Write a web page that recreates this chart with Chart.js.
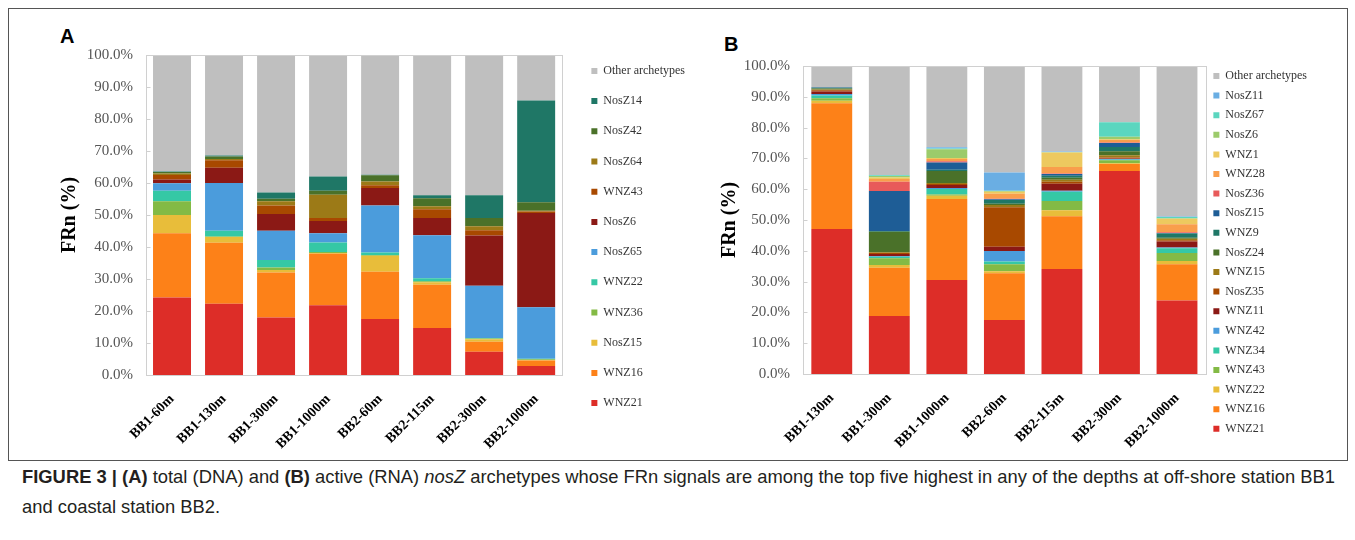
<!DOCTYPE html>
<html>
<head>
<meta charset="utf-8">
<script src="https://cdn.jsdelivr.net/npm/chart.js@4.4.1/dist/chart.umd.min.js"></script>
<style>
  body { margin: 0; background: #fff; width: 1355px; height: 540px; position: relative; overflow: hidden; }
  #frame { position: absolute; left: 8px; top: 8px; width: 1338px; height: 451px; border: 1px solid #555; }
  .tag { position: absolute; font-family: "Liberation Sans", Arial, sans-serif; font-weight: bold; font-size: 20px; line-height: 20px; color: #000; }
  #wrapA { position: absolute; left: 50px; top: 33px; }
  #wrapB { position: absolute; left: 710px; top: 44px; }
  #caption { position: absolute; left: 22px; top: 462px; white-space: nowrap; transform-origin: left top;
             font-family: "Liberation Sans", Arial, sans-serif; font-size: 19px; line-height: 30px; color: #231f20; }
</style>
</head>
<body>
<div id="frame"></div>
<div class="tag" style="left:60px; top:26px;">A</div>
<div class="tag" style="left:724px; top:34px;">B</div>
<div id="wrapA"><canvas id="chartA" width="635" height="422"></canvas></div>
<div id="wrapB"><canvas id="chartB" width="597" height="410"></canvas></div>
<div id="caption"><span id="capLine1"><b>FIGURE 3 | (A)</b> total (DNA) and <b>(B)</b> active (RNA) <i>nosZ</i> archetypes whose FRn signals are among the top five highest in any of the depths at off-shore station BB1</span><br>and coastal station BB2.</div>

<script>
// ---- panel A : total (DNA) ----
const catsA = ['BB1-60m', 'BB1-130m', 'BB1-300m', 'BB1-1000m', 'BB2-60m', 'BB2-115m', 'BB2-300m', 'BB2-1000m'];
const A_WNZ21  = [24.2, 22.3, 18.0, 21.8, 17.5, 14.7, 7.3, 2.8];
const A_WNZ16  = [20.1, 19.0, 14.0, 16.1, 14.8, 13.5, 3.1, 1.7];
const A_NosZ15 = [5.7, 1.8, 0.8, 0.2, 5.0, 0.8, 0.8, 0.2];
const A_WNZ36  = [4.3, 0.2, 0.8, 0.3, 0.2, 0.3, 0.2, 0.2];
const A_WNZ22  = [3.3, 1.8, 2.3, 3.0, 0.8, 0.9, 0.2, 0.2];
const A_NosZ65 = [2.3, 14.9, 9.2, 2.9, 14.7, 13.5, 16.3, 16.1];
const A_NosZ6  = [1.2, 4.8, 5.2, 3.8, 5.4, 5.4, 15.7, 29.4];
const A_WNZ43  = [1.4, 2.3, 2.7, 1.0, 0.9, 2.7, 1.6, 0.5];
const A_NosZ64 = [0.5, 0.4, 1.3, 7.2, 1.2, 0.9, 1.3, 0.2];
const A_NosZ42 = [0.4, 0.8, 0.8, 1.3, 1.9, 2.5, 2.6, 2.7];
const A_NosZ14 = [0.2, 0.3, 1.9, 4.4, 0.2, 1.0, 7.1, 31.8];
const A_Other  = [36.4, 31.4, 43.0, 38.0, 37.4, 43.8, 43.8, 14.2];

// ---- panel B : active (RNA) ----
const catsB = ['BB1-130m', 'BB1-300m', 'BB1-1000m', 'BB2-60m', 'BB2-115m', 'BB2-300m', 'BB2-1000m'];
const B_WNZ21  = [47.1, 18.8, 30.5, 17.5, 34.1, 65.9, 23.9];
const B_WNZ16  = [40.8, 15.7, 26.3, 15.2, 17.1, 2.3, 11.7];
const B_WNZ22  = [0.8, 0.9, 1.1, 0.7, 2.0, 0.2, 1.1];
const B_WNZ43  = [0.8, 2.2, 0.4, 2.2, 3.0, 1.0, 2.6];
const B_WNZ34  = [0.9, 0.5, 1.8, 0.9, 3.0, 0.2, 1.5];
const B_WNZ42  = [0.5, 0.2, 0.3, 3.4, 0.3, 0.2, 0.3];
const B_WNZ11  = [0.8, 0.7, 1.0, 1.4, 2.3, 0.2, 1.9];
const B_NosZ35 = [0.4, 0.3, 0.3, 12.8, 0.6, 0.3, 0.4];
const B_WNZ15  = [0.3, 0.2, 0.3, 0.8, 0.7, 0.7, 0.5];
const B_NosZ24 = [0.3, 6.7, 3.9, 0.4, 0.6, 1.3, 0.3];
const B_WNZ9   = [0.2, 0.2, 0.4, 1.2, 0.7, 1.4, 1.4];
const B_NosZ15 = [0.2, 13.0, 2.4, 0.2, 0.5, 1.3, 0.2];
const B_NosZ36 = [0.0, 3.0, 0.4, 0.2, 0.2, 0.2, 0.2];
const B_WNZ28  = [0.0, 0.9, 0.7, 1.6, 2.1, 0.8, 2.6];
const B_WNZ1   = [0.0, 0.5, 0.3, 0.7, 4.7, 0.2, 1.8];
const B_NosZ6  = [0.0, 0.5, 2.9, 0.2, 0.1, 0.8, 0.2];
const B_NosZ67 = [0.0, 0.2, 0.2, 0.1, 0.1, 4.7, 0.4];
const B_NosZ11 = [0.0, 0.1, 0.4, 5.9, 0.1, 0.0, 0.1];
const B_Other  = [6.9, 35.4, 26.4, 34.6, 27.8, 18.3, 48.9];

const yTicks = [0, 10, 20, 30, 40, 50, 60, 70, 80, 90, 100];

// bottom -> top stacking order
const seriesA = [
  ['WNZ21', A_WNZ21, '#dd2d28'],
  ['WNZ16', A_WNZ16, '#fd8118'],
  ['NosZ15', A_NosZ15, '#e8bd3a'],
  ['WNZ36', A_WNZ36, '#83ba45'],
  ['WNZ22', A_WNZ22, '#35c8a5'],
  ['NosZ65', A_NosZ65, '#4b9cdc'],
  ['NosZ6', A_NosZ6, '#8b1915'],
  ['WNZ43', A_WNZ43, '#a84900'],
  ['NosZ64', A_NosZ64, '#9c7a17'],
  ['NosZ42', A_NosZ42, '#4a7129'],
  ['NosZ14', A_NosZ14, '#1f7766'],
  ['Other archetypes', A_Other, '#bfbfbf']
];
const seriesB = [
  ['WNZ21', B_WNZ21, '#dd2d28'],
  ['WNZ16', B_WNZ16, '#fd8118'],
  ['WNZ22', B_WNZ22, '#e8bd3a'],
  ['WNZ43', B_WNZ43, '#83ba45'],
  ['WNZ34', B_WNZ34, '#35c8a5'],
  ['WNZ42', B_WNZ42, '#4b9cdc'],
  ['WNZ11', B_WNZ11, '#8b1915'],
  ['NosZ35', B_NosZ35, '#a84900'],
  ['WNZ15', B_WNZ15, '#9c7a17'],
  ['NosZ24', B_NosZ24, '#4a7129'],
  ['WNZ9', B_WNZ9, '#1f7766'],
  ['NosZ15', B_NosZ15, '#1e5d96'],
  ['NosZ36', B_NosZ36, '#e85a5a'],
  ['WNZ28', B_WNZ28, '#f99e4c'],
  ['WNZ1', B_WNZ1, '#edc95f'],
  ['NosZ6', B_NosZ6, '#9ccb6b'],
  ['NosZ67', B_NosZ67, '#5bd6bf'],
  ['NosZ11', B_NosZ11, '#6aaee3'],
  ['Other archetypes', B_Other, '#bfbfbf']
];

const serif = '"Liberation Serif", "Times New Roman", serif';

// grey box round the plot area, with short tick marks on its left side
const plotFrame = {
  id: 'plotFrame',
  afterDraw(chart) {
    const a = chart.chartArea;
    const ctx = chart.ctx;
    const y = chart.scales.y;
    const x0 = Math.round(a.left) + 0.5;
    ctx.save();
    ctx.strokeStyle = '#d0d0d0';
    ctx.lineWidth = 1;
    ctx.strokeRect(x0, Math.round(a.top) + 0.5, Math.round(a.width), Math.round(a.height));
    ctx.beginPath();
    yTicks.slice(1, -1).forEach(v => {
      const py = Math.round(y.getPixelForValue(v)) + 0.5;
      ctx.moveTo(x0, py);
      ctx.lineTo(x0 + 4, py);
    });
    ctx.stroke();
    ctx.restore();
  }
};

function makeChart(id, cats, series, opt) {
  // pushes the legend a bit further from the plot than its padding would
  const legendShift = {
    id: 'legendShift',
    afterLayout(chart) {
      if (opt.legDx) { chart.legend.left += opt.legDx; chart.legend.right += opt.legDx; }
    }
  };
  return new Chart(document.getElementById(id), {
    type: 'bar',
    data: {
      labels: cats,
      datasets: series.map(s => ({
        label: s[0], data: s[1], backgroundColor: s[2],
        borderWidth: 0, barPercentage: 1, categoryPercentage: opt.catPct
      }))
    },
    options: {
      responsive: false,
      maintainAspectRatio: false,
      animation: false,
      layout: { padding: { right: opt.legDx || 0 } },
      scales: {
        x: {
          stacked: true,
          grid: { display: false },
          border: { display: false },
          ticks: {
            autoSkip: false, minRotation: 45, maxRotation: 45, padding: 8,
            color: '#000', font: { family: serif, weight: 'bold', size: 14 }
          },
          afterFit: s => { s.height = opt.xh; }
        },
        y: {
          stacked: true, min: 0, max: 100,
          afterBuildTicks: s => { s.ticks = yTicks.map(v => ({ value: v })); },
          grid: { display: false, drawTicks: false },
          border: { display: false },
          ticks: {
            padding: 13, color: '#555',
            font: { family: serif, size: 15 },
            callback: v => v.toFixed(1) + '%'
          },
          title: {
            display: true, text: 'FRn (%)', color: '#000',
            font: { family: serif, weight: 'bold', size: 20 },
            padding: { top: 8, bottom: 0 }
          },
          afterFit: s => { s.width = opt.yw; }
        }
      },
      plugins: {
        tooltip: { enabled: false },
        legend: {
          position: 'right', align: 'start', reverse: true,
          title: { display: true, text: ' ', font: { size: 1 }, padding: { top: 0, bottom: opt.legTop } },
          labels: {
            boxWidth: 6, boxHeight: 6, padding: opt.legPad, color: '#333',
            font: { family: serif, size: 12 }
          }
        }
      }
    },
    plugins: [plotFrame, legendShift]
  });
}

// build, then widen/narrow the canvas so the plot's right edge lands where wanted
function build(id, cats, series, opt) {
  const canvas = document.getElementById(id);
  let chart = makeChart(id, cats, series, opt);
  const dx = Math.round(opt.right - chart.chartArea.right);
  if (dx !== 0) {
    chart.destroy();
    canvas.width = canvas.width + dx;
    chart = makeChart(id, cats, series, opt);
  }
  return chart;
}

build('chartA', catsA, seriesA, {
  xh: 80, yw: 96, catPct: 0.73, legPad: 18.2, legDx: 11, legTop: 12.5, right: 512
});
build('chartB', catsB, seriesB, {
  xh: 80, yw: 93, catPct: 0.71, legPad: 7.6, legDx: 0, legTop: 17.2, right: 496
});

// caption set in a condensed face: squeeze the first line to the printed width
const cap = document.getElementById('caption');
const w1 = document.getElementById('capLine1').getBoundingClientRect().width;
cap.style.transform = 'scaleX(' + (1313 / w1) + ')';
</script>
</body>
</html>
